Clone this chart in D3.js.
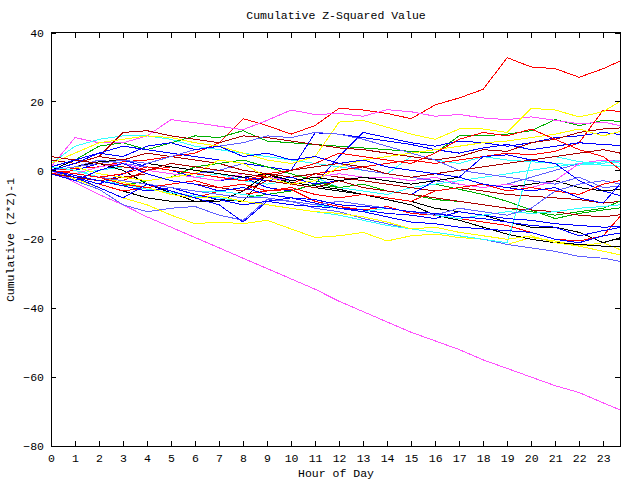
<!DOCTYPE html>
<html>
<head>
<meta charset="utf-8">
<script src="https://cdn.jsdelivr.net/npm/d3@7"></script>
<style>
  body { margin: 0; background: #fff; }
  text { font-family: "Liberation Mono", "DejaVu Sans Mono", monospace; font-size: 11.5px; fill: #000; }
</style>
</head>
<body>
<svg id="chart"></svg>
<script>
// Canvas settings
const WIDTH = 640;
const HEIGHT = 480;

// Axis settings
const X_TICKS = d3.range(0, 24);
const Y_TICKS = [-80, -60, -40, -20, 0, 20, 40];
const X_MAX = 23.7;

// Sample times (hours) shared by every series
const HOURS = [0, 1, 2, 3, 4, 5, 6, 7, 8, 9, 10, 11, 12, 13, 14, 15, 16, 17, 18, 19, 20, 21, 22, 23, 23.7];

// Line colours
const RED = '#ff0000', GREEN = '#00b000', BLUE = '#0000ff', MAGENTA = '#ff50ff',
      CYAN = '#30ffff', DARKRED = '#a80000', YELLOW = '#ffff00', BLACK = '#000000',
      SLATE = '#6060ff';

// Cumulative values
const red1 = [0, 0.5, 1, 2.5, 3, 4, 5, 8, 15, 13, 10.5, 13, 18, 17.5, 16.5, 15, 19, 21, 23.5, 32.7, 30, 29.5, 27, 29.5, 31.7];
const red2 = [0, -1, -2, -3, 0, 1, 0, -1, -3, -2, -4, -1, 0, 1, 2, 3, 2, 3, 4, 5, 4.5, 5.5, 8, 17.5, 17.1];
const red3 = [0, -2, -4, -6, -5, -7, -8, -6, -7, -6, -5.5, -9, -10.5, -11.5, -10.5, -12.5, -13, -14, -15, -16, -18, -20, -20.5, -19, -13.4];
const red4 = [-1, 0, -2, -1, 1, 0, -1, -2, -3, -1, 0, 2, 5, 4, 3, 2, 5, 9, 11, 10, 12, 9, 6, 4, 0.2];
const red5 = [0, -1, -2, -4, -5, -4, -3, -5, -4, -6, -5, -7, -8, -7, -8, -9, -6, -5, -4, -6, -5, -6, -7, -4, -3];
const mag1 = [1, 9.5, 8, 8, 10, 14.7, 13.8, 12.8, 11.8, 14.5, 17.5, 16.2, 16.5, 15.7, 17.6, 17, 15.7, 16.2, 15.2, 14.7, 15.5, 14.5, 13.5, 14, 13];
const mag2 = [0, -3.5, -7, -10, -13.5, -16.5, -19.5, -22.5, -25.5, -28.5, -31.5, -34.5, -38, -41, -44, -47, -49.5, -52, -55, -57.5, -60, -62.5, -64.5, -67.5, -69.5];
const mag3 = [0, -1, 1, 2, 0, -1, -2, -3, -1, -2, -3, -2, -1, -2, -2, -3, -2, -4, -5, -4, -5, -3, 2, 3, 2.5];
const yel1 = [0, -2.5, -5, -8, -10, -13, -15.5, -15, -15.5, -14.5, -17, -19.5, -19, -18, -20.5, -19, -18.5, -19.5, -20, -21.5, -19.5, -20.5, -22, -21, -23];
const yel2 = [2, 5, 8, 9, 10, 9.5, 8, 7, 5, 3, 2, 4, 14, 14.5, 12.5, 10.5, 9, 12, 12, 11, 18, 17.5, 15.5, 17, 20];
const yel3 = [0, 1, -1, -2, -3, -2, -1, 3, 2, -2, -4, -3, 1, 3, 4, 5, 6, 7, 8, 8.5, 9.5, 10.5, 12, 10, 11.3];
const yel4 = [0, -1, -2, -3.5, -5, -7, -8, -7.5, -9, -10, -11, -12, -12.5, -13.5, -15, -17, -16.5, -18, -19, -20, -19, -21, -22, -23.5, -24.5];
const blue1 = [-1, 0, 2, 3, 1, 0, -2, -3, -2, -5, -6, -4, 4, 11, 9.5, 8, 7, 8.5, 8, 7, 8, 9.5, 10, 11, 10.4];
const blue2 = [1, 3, 5, 7, 6, 5, 4, 3, 2, 1, 0, 10.9, 10.5, 9.5, 8.5, 7.5, 6, 5, 6.5, 7.5, 6, 7, 8, 7.5, 7.2];
const blue3 = [0, -2, -4, -1, 2, 1, 0, -1, -2, -3, -2, -4, -3, -5, -6, -7, -3, -2, 4, 4.5, 3, 2, -3, -6, -7.3];
const blue4 = [0, -1.5, -3, -4.5, -6, -5, -7, -8.5, -10, -9, -10, -10.5, -11, -11.5, -12.5, -13, -14, -12, -13, -14, -14.5, -15.5, -16, -16.5, -16.3];
const blue5 = [0, -2, -5, -8, -4, -6, -8, -10, -15, -9, -8, -9.5, -11, -12, -13.5, -15, -15.5, -16.5, -17, -17.5, -18, -20, -21, -19, -18.2];
const blue6 = [-1, -3, 0, 2, -1, -3, -4, -6, -5, -7, -8, -8.5, -10, -10.5, -11, -12, -12.5, -13.5, -14, -15, -16, -16.5, -19, -17.5, -16.6];
const blue7 = [0, 2, 5, 4, 7, 8, 6, 7, 4, 5, 3, 4, 2, 3, 1, 0, -1, -2, -4, -5, -6, -5, -8, -9.5, -4];
const slate1 = [0, 1, 3, 2, 1, 0, -1, 0, 2, 1, 0, 1, 2, 0, -1, -2, -3, -4, -5, -4, -2, 0, 2, 3, 2.6];
const slate2 = [0, -3, -5.5, -10, -12, -11, -10.5, -13, -14.5, -8.5, -9, -11, -12, -14, -15.5, -17, -18, -19, -20, -21.5, -22.5, -23.5, -25, -25.5, -26.4];
const slate3 = [0, 1, 2, 3, 2, 4, 6, 7, 8, 10, 9.5, 11, 10.5, 9, 7, 5, 3, 0, -1, -2, -3, -4, -2, -5, -4.6];
const slate4 = [0, -1, -2, -3, -4, -5, -6, -7, -8, -8, -9, -10, -9, -10, -11, -12, -13, -11, -12, -13, -11, -6, -4, -3, -4];
const cyan1 = [2, 7, 9, 10, 10, 9, 7, 6, 5, 4, 3, 2, 1, 0, -1, 4, 3, 2, 4, 3, 2.5, 2, 1.5, 2.5, 2.1];
const cyan2 = [0, -1, 0, 1, 0, -1, -2, -1, -3, -4, -3, -2, -5, -6, -7, -5, -4, -3, -2, -1, 0, 1, 2, 1.5, 1.2];
const cyan3 = [0, -1.5, -3, -4, -5.5, -6.5, -7.5, -8, -9, -10, -11, -12, -13, -14.5, -16, -17, -18, -19, -20, -21, 3, 4, 2.5, 2, 3];
const cyan4 = [1, 0, -2, -3, -4, -5, -6, -6, -7, -8, -9, -10, -11, -12, -11, -12, -13, -14, -13, -12, -12.5, -12, -11, -10.5, -10];
const green1 = [0, 3, 7, 8, 6, 8, 10, 9.5, 11.5, 8.5, 8, 7.5, 7, 6.5, 6, 5.5, 5, 10, 10, 10.5, 11.5, 14.7, 13, 14.5, 14.2];
const green2 = [0, -1, -2, -3, -4, -5, -6, -7, -8, -7, -6, -4, -5, -6, -7, -5, -4, -5.5, -7, -9, -11.5, -14, -12.5, -11.5, -10.9];
const green3 = [0, -1.5, -3, -4.5, -3, -2, 1, 2, 3, 1, -1, -3, -5, -4, -6, -7, -8.5, -9, -10, -11, -12, -13, -12, -11, -9];
const dred1 = [3, 2, 4, 11, 11.5, 10, 9, 8, 10, 9.5, 8.5, 7.5, 6.5, 6, 5, 4, 3, 4, 6, 5.5, 8, 9, 11, 12, 12.3];
const dred2 = [0, 2, 4, 3, 5, 4, 3, 2, 0, -1, -2, -1, -2, -3, -4, -5, -6, -5, -6, -7, -7.5, -8, -8.5, -9.5, -9];
const dred3 = [-1, -2, -3, -2, -1, -3, -4, -5, -6, -3, -4, -5, -3, -5, -6, -7, -8, -9, -10, -11, -11.5, -12, -13, -13.5, -12.9];
const dred4 = [4, 3, 2, 1, 0, 2, 1, 0, -1, -2, 0, 1, 2, 1, -1, -2, -1, 0, 1, 2, 3, 4, 5, 6, 5];
const black1 = [0, 3, 2, 0, -4, -6.5, -9, -8.5, -9, -1, -3.5, -4.5, -5.5, -7, -8.5, -10, -13, -14.5, -16.5, -18.5, -20, -21, -21.5, -22, -22];
const black2 = [0, -2, -4, -6, -8, -9, -9, -9, -6, -1, -4, -5, -6, -7, -8, -9, -11, -12, -13, -15, -16.5, -16.5, -18, -21, -19.6];
const black3 = [0, 1, 2.5, 3, 2, 1, 0, -1, -2, -1, -3, -2, -3, -2, -3, -4, -3, -2, -4, -5, -4, -3, -5, -6, -5.5];

// Drawing order follows the plot order of the reference
const SERIES = [
    {values: red1, color: RED}, {values: green1, color: GREEN}, {values: blue1, color: BLUE},
    {values: mag1, color: MAGENTA}, {values: cyan1, color: CYAN}, {values: dred1, color: DARKRED},
    {values: yel1, color: YELLOW}, {values: black1, color: BLACK}, {values: slate1, color: SLATE},
    {values: red2, color: RED}, {values: green2, color: GREEN}, {values: blue2, color: BLUE},
    {values: mag2, color: MAGENTA}, {values: cyan2, color: CYAN}, {values: dred2, color: DARKRED},
    {values: yel2, color: YELLOW}, {values: black2, color: BLACK}, {values: slate2, color: SLATE},
    {values: red3, color: RED}, {values: green3, color: GREEN}, {values: blue3, color: BLUE},
    {values: mag3, color: MAGENTA}, {values: cyan3, color: CYAN}, {values: dred3, color: DARKRED},
    {values: yel3, color: YELLOW}, {values: black3, color: BLACK}, {values: slate3, color: SLATE},
    {values: red4, color: RED}, {values: blue4, color: BLUE}, {values: cyan4, color: CYAN},
    {values: dred4, color: DARKRED}, {values: yel4, color: YELLOW}, {values: slate4, color: SLATE},
    {values: red5, color: RED}, {values: blue5, color: BLUE}, {values: blue6, color: BLUE},
    {values: blue7, color: BLUE}
];

// Plot box (pixels)
const LEFT = 51, RIGHT = 620, TOP = 32.5, BOTTOM = 446;

const svg = d3.select('svg#chart').attr('width', WIDTH).attr('height', HEIGHT);

const x = d3.scaleLinear().domain([0, X_MAX]).range([LEFT, RIGHT]);
const y = d3.scaleLinear().domain([-80, 40]).range([BOTTOM, TOP]);

svg.append('clipPath').attr('id', 'plotClip')
    .append('rect').attr('x', LEFT).attr('y', TOP)
    .attr('width', RIGHT - LEFT).attr('height', BOTTOM - TOP);

// Series lines
const line = d3.line().x((d, i) => x(HOURS[i])).y(d => y(d));

svg.append('g').attr('clip-path', 'url(#plotClip)')
    .selectAll('path').data(SERIES).enter().append('path')
    .attr('d', d => line(d.values))
    .attr('fill', 'none')
    .attr('stroke', d => d.color)
    .attr('stroke-width', 1)
    .style('shape-rendering', 'crispEdges');

// Axes: ticks point inward, mirrored on top and right
function styleAxis(g) {
    g.select('.domain').remove();
    g.selectAll('line').attr('stroke', '#000').style('shape-rendering', 'crispEdges');
    g.selectAll('text').attr('font-family', null).attr('font-size', null);
}

svg.append('g').attr('transform', `translate(0,${BOTTOM})`)
    .call(d3.axisBottom(x).tickValues(X_TICKS).tickSize(-5).tickPadding(8).tickFormat(d3.format('d')))
    .call(styleAxis);
svg.append('g').attr('transform', `translate(0,${TOP})`)
    .call(d3.axisTop(x).tickValues(X_TICKS).tickSize(-5).tickFormat(''))
    .call(styleAxis);
svg.append('g').attr('transform', `translate(${LEFT},0)`)
    .call(d3.axisLeft(y).tickValues(Y_TICKS).tickSize(-5).tickPadding(7).tickFormat(d3.format('d')))
    .call(styleAxis);
svg.append('g').attr('transform', `translate(${RIGHT},0)`)
    .call(d3.axisRight(y).tickValues(Y_TICKS).tickSize(-5).tickFormat(''))
    .call(styleAxis);

// Border
svg.append('rect')
    .attr('x', LEFT).attr('y', TOP)
    .attr('width', RIGHT - LEFT).attr('height', BOTTOM - TOP)
    .attr('fill', 'none').attr('stroke', '#000')
    .style('shape-rendering', 'crispEdges');

// Titles
svg.append('text').attr('x', 336).attr('y', 19).attr('text-anchor', 'middle')
    .text('Cumulative Z-Squared Value');
svg.append('text').attr('x', 336).attr('y', 477).attr('text-anchor', 'middle')
    .text('Hour of Day');
svg.append('text').attr('transform', 'translate(14,240) rotate(-90)').attr('text-anchor', 'middle')
    .text('Cumulative (Z*Z)-1');
</script>
</body>
</html>
